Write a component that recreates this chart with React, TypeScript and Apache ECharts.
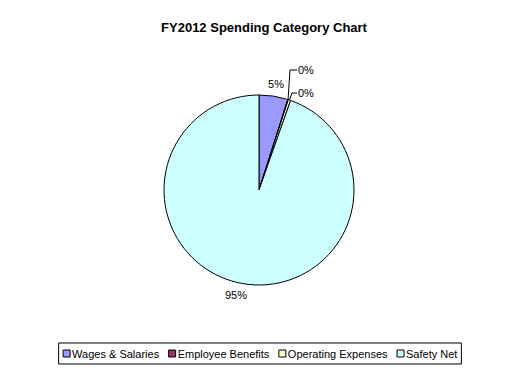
import React, { useEffect, useRef } from "react";
import * as echarts from "echarts";

const title = "FY2012 Spending Category Chart";
const categories = ["Wages & Salaries", "Employee Benefits", "Operating Expenses", "Safety Net"];
const values = [4.9, 0.1, 0.4, 94.6];
const labels = ["5%", "0%", "0%", "95%"];
const colors = ["#9999FF", "#993366", "#FFFFCC", "#CCFFFF"];

export default function App() {
  const ref = useRef<HTMLDivElement>(null);
  useEffect(() => {
    document.body.style.margin = "0";
    const chart = echarts.init(ref.current!, null, { renderer: "svg" });
    const font = "'Liberation Sans', Arial, sans-serif";
    chart.setOption({
      animation: false,
      backgroundColor: "#ffffff",
      title: {
        text: title,
        left: 259,
        textAlign: "center",
        top: 16,
        textStyle: { fontFamily: font, fontSize: 13, fontWeight: "bold", color: "#000" },
      },
      legend: {
        bottom: 9,
        left: "center",
        data: categories,
        itemWidth: 7,
        itemHeight: 7,
        itemGap: 9,
        icon: "rect",
        borderColor: "#000",
        borderWidth: 1,
        borderRadius: 0,
        padding: [5, 4, 5, 4],
        itemStyle: { borderColor: "#000", borderWidth: 1 },
        textStyle: { fontFamily: font, fontSize: 11, color: "#000", padding: [0, 0, 0, -3] },
      },
      series: [
        {
          type: "pie",
          center: [259, 190],
          radius: 95,
          startAngle: 90,
          clockwise: true,
          data: categories.map((c, i) => ({
            name: c,
            value: values[i],
            itemStyle: { color: colors[i] },
            label: { formatter: labels[i], color: "#000" },
            labelLine: { show: i === 1 || i === 2, lineStyle: { color: "#000", width: 1 } },
          })),
          itemStyle: { borderColor: "#000", borderWidth: 1 },
          emphasis: { disabled: true },
          label: {
            show: true,
            position: "outside",
            fontFamily: font,
            fontSize: 11,
            color: "#000",
          },
          labelLine: { show: true, lineStyle: { color: "#000", width: 1 } },
          labelLayout: (params: any) => {
            const i = params.dataIndex;
            const pts = params.labelLinePoints;
            const start = pts && pts[0] ? pts[0] : [290, 98];
            if (i === 0) return { x: 276, y: 84, align: "center", verticalAlign: "middle" };
            if (i === 3) return { x: 236, y: 295, align: "center", verticalAlign: "middle" };
            if (i === 1) {
              return {
                x: 298, y: 70, align: "left", verticalAlign: "middle",
                labelLinePoints: [start, [290, 70], [297, 70]],
              };
            }
            return {
              x: 298, y: 93, align: "left", verticalAlign: "middle",
              labelLinePoints: [start, [292, 93], [297, 93]],
            };
          },
        },
      ],
    });
    return () => chart.dispose();
  }, []);
  return <div ref={ref} style={{ position: "absolute", left: 0, top: 0, width: 520, height: 373 }} />;
}
